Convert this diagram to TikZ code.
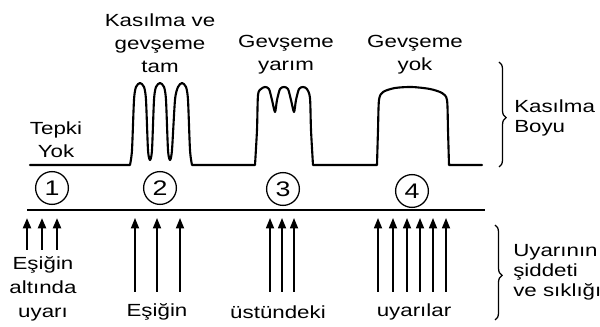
\documentclass[tikz,border=0pt]{standalone}
\usepackage{fontspec}
\setmainfont{Liberation Sans}[FakeStretch=1.27]
\usetikzlibrary{arrows.meta,decorations.pathreplacing}
\tikzset{
  lbl/.style={font=\fontsize{12.5}{16.5}\selectfont, align=center, inner sep=0pt},
  sidelbl/.style={font=\fontsize{12.5}{14.2}\selectfont, align=left, inner sep=0pt, anchor=west},
  trace/.style={line width=1.5pt, line join=round, line cap=round},
  axisline/.style={line width=1.6pt},
  stim/.style={-{Triangle[length=2.6mm,width=2mm]}, line width=1.2pt},
  numcirc/.style={circle, draw, line width=0.9pt, minimum size=8.2mm, inner sep=0pt, font=\fontsize{15}{15}\selectfont},
  bracket/.style={decorate, decoration={brace, amplitude=5pt, aspect=0.53}, line width=0.9pt}
}
\begin{document}
\begin{tikzpicture}[x={(0.025cm,0)}, y={(0,-0.025cm)}]
\useasboundingbox (0,0) rectangle (600,327);
% contraction trace
\draw[trace] (30,165) -- plot[smooth, tension=0.45] coordinates {
  (130,165) (132,150) (134,100) (136,87) (140,83) (144,87) (146,100) (148,150) (150,160)
  (152,150) (154,100) (156,87) (160,83) (164,87) (166,100) (168,150) (170,160)
  (172,150) (175,100) (178,87) (182,83) (186,87) (188,100) (190,150) (192,165)}
  -- plot[smooth, tension=0.45] coordinates {
  (255,165) (257,130) (258,95) (261,89) (265,87) (269,89) (272,100) (275,112)
  (277,100) (280,89) (284,87) (288,89) (291,100) (294,112)
  (296,100) (299,89) (303,87) (307,89) (310,98) (311,130) (313,165)}
  -- plot[smooth, tension=0.45] coordinates {
  (377,165) (378,130) (379,100) (383,92) (395,88) (412,87) (430,89) (442,93) (447,100) (448,130) (449,165)}
  -- (482,165);
% labels above the trace
\node[lbl] (tepki) at (56,140) {Tepki\\Yok};
\node[lbl] (tam) at (160,43) {Kasılma ve\\gevşeme\\tam};
\node[lbl] (yarim) at (286,55) {Gevşeme\\yarım};
\node[lbl] (yok) at (415,55) {Gevşeme\\yok};
\draw[bracket] (499,62) -- (499,167);
\node[sidelbl] (boy) at (514,118) {Kasılma\\Boyu};
% numbered cases
\node[numcirc] (c1) at (52,188) {1};
\node[numcirc] (c2) at (160,188) {2};
\node[numcirc] (c3) at (283,189) {3};
\node[numcirc] (c4) at (412,191) {4};
\coordinate (axL) at (27,210);
\coordinate (axR) at (485,210);
\draw[axisline] (axL) -- (axR);
% stimuli
\foreach \x in {27,42,57} {
  \coordinate (s\x) at (\x,250);
  \draw[stim, line width=1.6pt] (s\x) -- (s\x |- 0,218);
}
\foreach \x in {135,157,180,270,282,294,378,393,407,420,433,446} {
  \coordinate (s\x) at (\x,292);
  \draw[stim] (s\x) -- (s\x |- 0,218);
}
\node[lbl, font=\fontsize{12.5}{17}\selectfont] (alt) at (43,289) {Eşiğin\\altında\\uyarı};
\node[lbl] (ust1) at (157,312) {Eşiğin};
\node[lbl] (ust2) at (278,312) {üstündeki};
\node[lbl] (ust3) at (414,312) {uyarılar};
\draw[bracket] (495,225) -- (495,320);
\node[sidelbl] (uyari) at (513,272) {Uyarının\\şiddeti\\ve sıklığı};
\end{tikzpicture}
\end{document}
